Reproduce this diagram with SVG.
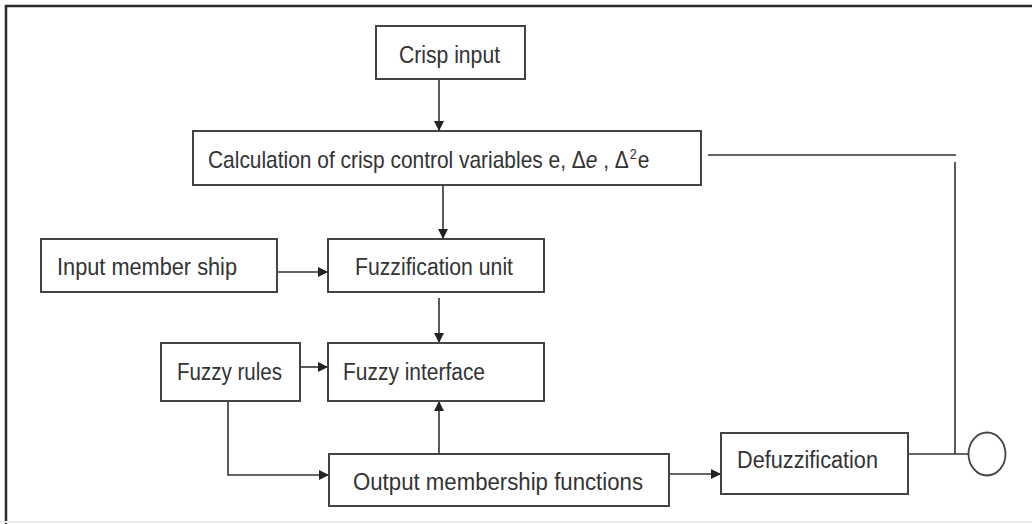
<svg xmlns="http://www.w3.org/2000/svg" width="1032" height="524" viewBox="0 0 1032 524">
<style>
.box{fill:#fff;stroke:#444;stroke-width:2}
.lbl{font-family:"Liberation Sans",Arial,sans-serif;font-size:23px;fill:#333}
.con{fill:none;stroke:#333;stroke-width:1.6}
.frame{fill:none;stroke:#2a2a2a;stroke-width:2.5}
</style>
<defs>
<marker id="ah" viewBox="0 0 10 10" refX="10" refY="5" markerWidth="11" markerHeight="10" markerUnits="userSpaceOnUse" orient="auto">
<path d="M0,0 L10,5 L0,10 z" fill="#222"/>
</marker>
</defs>
<rect width="1032" height="524" fill="#fff"/>
<path class="frame" d="M6,524 V6 H1032"/>
<line x1="0" y1="522" x2="1032" y2="522" stroke="#ececec" stroke-width="2"/>

<g id="connectors">
<path class="con" d="M439,79 V131" marker-end="url(#ah)"/>
<path class="con" d="M443,185 V239" marker-end="url(#ah)"/>
<path class="con" d="M277,272 H328" marker-end="url(#ah)"/>
<path class="con" d="M439,298 V343" marker-end="url(#ah)"/>
<path class="con" d="M300,367 H328" marker-end="url(#ah)"/>
<path class="con" d="M439,454 V401" marker-end="url(#ah)"/>
<path class="con" d="M228,401 V475 H329" marker-end="url(#ah)"/>
<path class="con" d="M669,474 H721" marker-end="url(#ah)"/>
<path class="con" d="M908,454 H968.5"/>
<path class="con" d="M708,155 H956"/>
<path class="con" d="M955,162 V454"/>
</g>

<g id="crisp-input">
<rect class="box" x="376" y="26" width="149" height="53"/>
<text class="lbl" x="399" y="63" textLength="101" lengthAdjust="spacingAndGlyphs">Crisp input</text>
</g>

<g id="calculation">
<rect class="box" x="193" y="131" width="508" height="54"/>
<text class="lbl" transform="translate(208,168) scale(0.91,1)" x="0" y="0" font-size="22">Calculation of crisp control variables e, Δ<tspan font-style="italic">e</tspan> , Δ<tspan font-size="14" dx="1" dy="-9">2</tspan><tspan dx="1" dy="9">e</tspan></text>
</g>

<g id="input-membership">
<rect class="box" x="41" y="239" width="236" height="53"/>
<text class="lbl" x="57" y="275" textLength="180" lengthAdjust="spacingAndGlyphs">Input member ship</text>
</g>

<g id="fuzzification-unit">
<rect class="box" x="328" y="239" width="216" height="53"/>
<text class="lbl" x="355" y="275" textLength="158" lengthAdjust="spacingAndGlyphs">Fuzzification unit</text>
</g>

<g id="fuzzy-rules">
<rect class="box" x="161" y="343" width="139" height="58"/>
<text class="lbl" x="177" y="380" textLength="105" lengthAdjust="spacingAndGlyphs">Fuzzy rules</text>
</g>

<g id="fuzzy-interface">
<rect class="box" x="328" y="343" width="216" height="58"/>
<text class="lbl" x="343" y="380" textLength="142" lengthAdjust="spacingAndGlyphs">Fuzzy interface</text>
</g>

<g id="output-membership">
<rect class="box" x="329" y="454" width="340" height="52"/>
<text class="lbl" x="353" y="490" textLength="290" lengthAdjust="spacingAndGlyphs">Output membership functions</text>
</g>

<g id="defuzzification">
<rect class="box" x="721" y="433" width="187" height="61"/>
<text class="lbl" x="737" y="468" textLength="141" lengthAdjust="spacingAndGlyphs">Defuzzification</text>
</g>

<g id="output-node">
<ellipse cx="987" cy="454" rx="18.5" ry="21.5" fill="#fff" stroke="#444" stroke-width="1.8"/>
</g>
</svg>
